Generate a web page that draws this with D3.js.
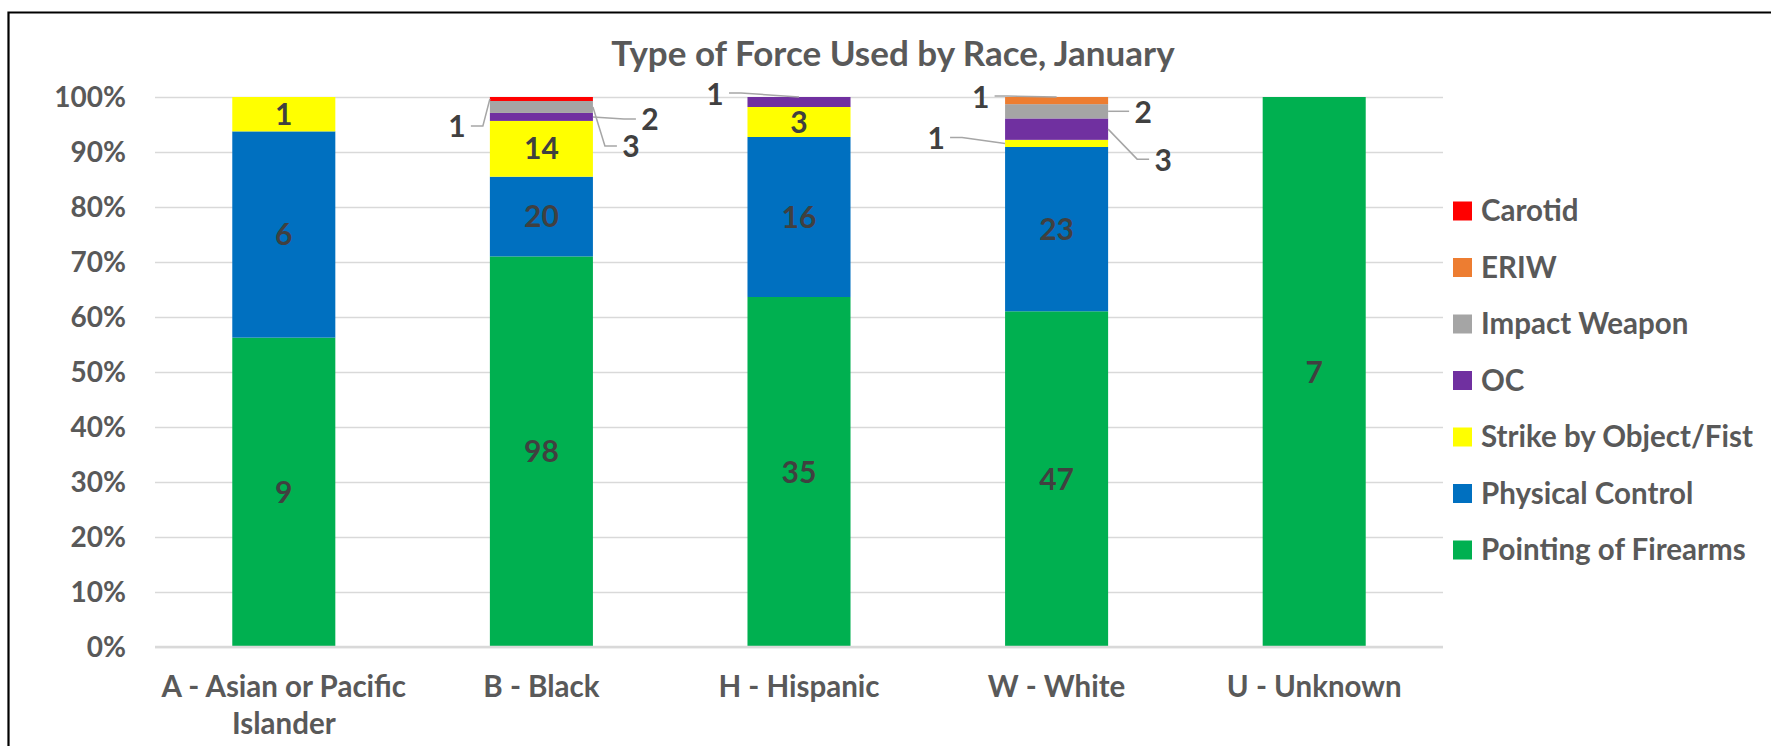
<!DOCTYPE html>
<html>
<head>
<meta charset="utf-8">
<script src="https://cdn.jsdelivr.net/npm/d3@7"></script>
<style>
  html, body { margin: 0; padding: 0; background: #fff; }
  svg { display: block; font-family: Lato, "Open Sans", sans-serif; font-weight: bold; }
</style>
</head>
<body>
<svg id="chart" width="1771" height="746"></svg>
<script>
// ---------- data ----------
const races = ["A - Asian or Pacific Islander", "B - Black", "H - Hispanic", "W - White", "U - Unknown"];
const raceLabelLines = [["A - Asian or Pacific", "Islander"], ["B - Black"], ["H - Hispanic"], ["W - White"], ["U - Unknown"]];
const seriesNames = ["Pointing of Firearms", "Physical Control", "Strike by Object/Fist", "OC", "Impact Weapon", "ERIW", "Carotid"];
const pointingOfFirearms = [9, 98, 35, 47, 7];
const physicalControl    = [6, 20, 16, 23, 0];
const strikeByObjectFist = [1, 14, 3, 1, 0];
const ocSpray            = [0, 2, 1, 3, 0];
const impactWeapon       = [0, 3, 0, 2, 0];
const eriw               = [0, 0, 0, 1, 0];
const carotid            = [0, 1, 0, 0, 0];
const yTickValues = [0, 0.1, 0.2, 0.3, 0.4, 0.5, 0.6, 0.7, 0.8, 0.9, 1.0];
const yTickLabels = ["0%", "10%", "20%", "30%", "40%", "50%", "60%", "70%", "80%", "90%", "100%"];
const titleText = "Type of Force Used by Race, January";

// ---------- styling / layout (not data) ----------
const seriesColors = ["#00B050", "#0070C0", "#FFFF00", "#7030A0", "#A5A5A5", "#ED7D31", "#FF0000"];
// callout labels for small segments: anchor side on segment, label offset from anchor
const callouts = [
  { race: "B - Black",    series: "Carotid",               side: "left",  dx: -33, dy: 28 },
  { race: "B - Black",    series: "OC",                    side: "right", dx: 57,  dy: 3 },
  { race: "B - Black",    series: "Impact Weapon",         side: "right", dx: 38,  dy: 40 },
  { race: "H - Hispanic", series: "OC",                    side: "top",   dx: -84, dy: -3 },
  { race: "W - White",    series: "ERIW",                  side: "top",   dx: -76, dy: 0 },
  { race: "W - White",    series: "Impact Weapon",         side: "right", dx: 35,  dy: 1 },
  { race: "W - White",    series: "OC",                    side: "right", dx: 55,  dy: 31 },
  { race: "W - White",    series: "Strike by Object/Fist", side: "left",  dx: -69, dy: -5 }
];

const W = 1771, H = 746;
const plot = { left: 155, right: 1443, top: 97, bottom: 647 };
const fs = { title: 35, tick: 28, label: 30, cat: 29.5, legend: 29.5 };

const svg = d3.select("#chart");

// chart border
svg.append("path")
  .attr("d", `M8.5,${H + 5} V12.5 H${W + 5}`)
  .attr("fill", "none").attr("stroke", "#000").attr("stroke-width", 2.2);

// table
const seriesValues = [pointingOfFirearms, physicalControl, strikeByObjectFist, ocSpray, impactWeapon, eriw, carotid];
const rows = races.map((r, i) => {
  const o = { race: r };
  seriesNames.forEach((s, j) => { o[s] = seriesValues[j][i]; });
  return o;
});
const stacked = d3.stack().keys(seriesNames).offset(d3.stackOffsetExpand)(rows);

const x = d3.scaleBand().domain(races).range([plot.left, plot.right]).paddingInner(0.6).paddingOuter(0.3);
const y = d3.scaleLinear().domain([0, 1]).range([plot.bottom, plot.top]);

// gridlines
const yAxis = d3.axisLeft(y).tickValues(yTickValues).tickFormat((d, i) => yTickLabels[i])
  .tickSize(-(plot.right - plot.left)).tickPadding(29);
const ga = svg.append("g").attr("transform", `translate(${plot.left},0)`).call(yAxis);
ga.select(".domain").remove();
ga.selectAll(".tick line").attr("stroke", "#D9D9D9").attr("stroke-width", 1.5);
ga.selectAll(".tick text").attr("fill", "#595959").attr("font-size", fs.tick)
  .attr("font-family", "Lato, sans-serif").attr("font-weight", "bold").attr("dy", "0.35em");

// bars
const gBars = svg.append("g");
stacked.forEach((layer, j) => {
  gBars.selectAll(null).data(layer).enter().append("rect")
    .attr("x", d => x(d.data.race))
    .attr("width", x.bandwidth())
    .attr("y", d => y(d[1]))
    .attr("height", d => Math.max(0, y(d[0]) - y(d[1])))
    .attr("fill", seriesColors[j]);
});

// baseline axis
const xAxis = d3.axisBottom(x).tickSize(0).tickFormat("");
const gx = svg.append("g").attr("transform", `translate(0,${plot.bottom})`).call(xAxis);
gx.select(".domain").attr("stroke", "#D9D9D9").attr("stroke-width", 2.5)
  .attr("d", `M${plot.left},0H${plot.right}`);

// category labels
races.forEach((r, i) => {
  const t = svg.append("text").attr("x", x(r) + x.bandwidth() / 2).attr("y", 687)
    .attr("text-anchor", "middle").attr("fill", "#595959").attr("font-size", fs.cat);
  raceLabelLines[i].forEach((ln, k) => {
    t.append("tspan").attr("x", x(r) + x.bandwidth() / 2).attr("dy", k === 0 ? "0.35em" : 37).text(ln);
  });
});

// data labels
const isCallout = (race, s) => callouts.some(c => c.race === race && c.series === s);
const gLab = svg.append("g");
stacked.forEach((layer, j) => {
  layer.forEach(d => {
    const v = d.data[seriesNames[j]];
    if (!v || isCallout(d.data.race, seriesNames[j])) return;
    gLab.append("text")
      .attr("x", x(d.data.race) + x.bandwidth() / 2)
      .attr("y", (y(d[0]) + y(d[1])) / 2)
      .attr("dy", "0.35em").attr("text-anchor", "middle")
      .attr("fill", "#404040").attr("font-size", fs.label).text(v);
  });
});

// callouts with leader lines
callouts.forEach(c => {
  const j = seriesNames.indexOf(c.series);
  const d = stacked[j].find(e => e.data.race === c.race);
  const x0 = x(c.race), x1 = x0 + x.bandwidth();
  let ax, ay;
  if (c.side === "left") { ax = x0; ay = (y(d[0]) + y(d[1])) / 2; }
  else if (c.side === "right") { ax = x1; ay = (y(d[0]) + y(d[1])) / 2; }
  else { ax = (x0 + x1) / 2; ay = y(d[1]); }
  const tx = ax + c.dx, ty = ay + c.dy;
  const dir = c.dx < 0 ? 1 : -1;         // direction from label toward anchor
  const ex = tx + dir * 14, ey = ty - 1;  // label edge
  const elbowX = ex + dir * 12;
  gLab.append("path")
    .attr("d", `M${ex},${ey}H${elbowX}L${ax},${ay}`)
    .attr("fill", "none").attr("stroke", "#A6A6A6").attr("stroke-width", 1.5);
  gLab.append("text").attr("x", tx).attr("y", ty).attr("dy", "0.35em")
    .attr("text-anchor", "middle").attr("fill", "#404040").attr("font-size", fs.label)
    .text(d.data[c.series]);
});

// title
svg.append("text").attr("x", 893).attr("y", 54).attr("dy", "0.35em")
  .attr("text-anchor", "middle").attr("fill", "#595959").attr("font-size", fs.title).text(titleText);

// legend (top to bottom reversed order)
const legendOrder = seriesNames.slice().reverse();
const lg = svg.append("g");
legendOrder.forEach((s, i) => {
  const cy = 211 + i * 56.5;
  lg.append("rect").attr("x", 1453).attr("y", cy - 9.5).attr("width", 19).attr("height", 19)
    .attr("fill", seriesColors[seriesNames.indexOf(s)]);
  lg.append("text").attr("x", 1481).attr("y", cy).attr("dy", "0.35em")
    .attr("fill", "#595959").attr("font-size", fs.legend).text(s);
});
</script>
</body>
</html>
